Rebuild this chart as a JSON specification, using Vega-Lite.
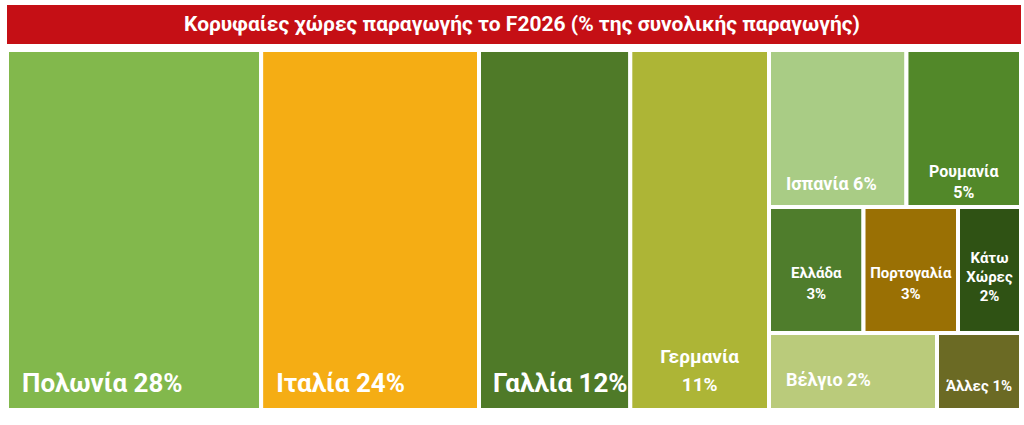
{
  "$schema": "https://vega.github.io/schema/vega-lite/v6.json",
  "padding": 5,
  "background": "white",
  "spacing": 6,
  "bounds": "flush",
  "config": {
    "view": {"stroke": null},
    "text": {"font": "Roboto", "fontWeight": "bold", "color": "white", "lineBreak": "\n"}
  },
  "datasets": {
    "heading": [
      {"text": "Κορυφαίες χώρες παραγωγής το F2026 (% της συνολικής παραγωγής)"}
    ],
    "countries": [
      {"country": "Πολωνία", "value": 28, "label": "Πολωνία 28%"},
      {"country": "Ιταλία", "value": 24, "label": "Ιταλία 24%"},
      {"country": "Γαλλία", "value": 12, "label": "Γαλλία 12%"},
      {"country": "Γερμανία", "value": 11, "label": "Γερμανία\n11%"},
      {"country": "Ισπανία", "value": 6, "label": "Ισπανία 6%"},
      {"country": "Ρουμανία", "value": 5, "label": "Ρουμανία\n5%"},
      {"country": "Ελλάδα", "value": 3, "label": "Ελλάδα\n3%"},
      {"country": "Πορτογαλία", "value": 3, "label": "Πορτογαλία\n3%"},
      {"country": "Κάτω Χώρες", "value": 2, "label": "Κάτω\nΧώρες\n2%"},
      {"country": "Βέλγιο", "value": 2, "label": "Βέλγιο 2%"},
      {"country": "Άλλες", "value": 1, "label": "Άλλες 1%"}
    ]
  },
  "vconcat": [
    {
      "data": {"name": "heading"},
      "width": 1014,
      "height": 39,
      "view": {"fill": "#c50f15", "stroke": null},
      "mark": {"type": "text", "fontSize": 21, "dx": 8},
      "encoding": {"text": {"field": "text", "type": "nominal"}}
    },
    {
      "spacing": 0,
      "bounds": "flush",
      "hconcat": [
        {
          "width": 472,
          "height": 360,
          "data": {"name": "countries"},
          "transform": [
            {"filter": {"field": "country", "oneOf": ["Πολωνία", "Ιταλία"]}},
            {"stack": "value", "groupby": [], "offset": "normalize", "as": ["x0", "x1"],
             "sort": [{"field": "value", "order": "descending"}, {"field": "country", "order": "ascending"}]}
          ],
          "encoding": {
            "x": {"field": "x0", "type": "quantitative", "scale": {"domain": [0, 1]}, "axis": null}
          },
          "layer": [
            {
              "mark": {"type": "rect", "stroke": "white", "strokeWidth": 4},
              "encoding": {
                "x2": {"field": "x1"},
                "color": {"field": "country", "type": "nominal", "legend": null,
                  "scale": {"domain": ["Πολωνία", "Ιταλία", "Γαλλία", "Γερμανία", "Ισπανία", "Ρουμανία", "Ελλάδα", "Πορτογαλία", "Κάτω Χώρες", "Βέλγιο", "Άλλες"],
                            "range": ["#82b84c", "#f5ad14", "#4f7a28", "#adb536", "#a9cc85", "#528829", "#4f7d2c", "#9a7004", "#2f5214", "#bacb7b", "#6b6a24"]}}
              }
            },
            {
              "mark": {"type": "text", "align": "left", "baseline": "alphabetic", "y": "height", "dx": 15, "dy": -18, "fontSize": 26},
              "encoding": {"text": {"field": "label", "type": "nominal"}}
            }
          ]
        },
        {
          "width": 290,
          "height": 360,
          "data": {"name": "countries"},
          "transform": [
            {"filter": {"field": "country", "oneOf": ["Γαλλία", "Γερμανία"]}},
            {"stack": "value", "groupby": [], "offset": "normalize", "as": ["x0", "x1"],
             "sort": [{"field": "value", "order": "descending"}, {"field": "country", "order": "ascending"}]}
          ],
          "encoding": {
            "x": {"field": "x0", "type": "quantitative", "scale": {"domain": [0, 1]}, "axis": null}
          },
          "layer": [
            {
              "mark": {"type": "rect", "stroke": "white", "strokeWidth": 4},
              "encoding": {
                "x2": {"field": "x1"},
                "color": {"field": "country", "type": "nominal", "legend": null,
                  "scale": {"domain": ["Πολωνία", "Ιταλία", "Γαλλία", "Γερμανία", "Ισπανία", "Ρουμανία", "Ελλάδα", "Πορτογαλία", "Κάτω Χώρες", "Βέλγιο", "Άλλες"],
                            "range": ["#82b84c", "#f5ad14", "#4f7a28", "#adb536", "#a9cc85", "#528829", "#4f7d2c", "#9a7004", "#2f5214", "#bacb7b", "#6b6a24"]}}
              }
            },
            {
              "transform": [{"filter": {"field": "country", "equal": "Γαλλία"}}],
              "mark": {"type": "text", "align": "left", "baseline": "alphabetic", "y": "height", "dx": 14, "dy": -18, "fontSize": 26},
              "encoding": {"text": {"field": "label", "type": "nominal"}}
            },
            {
              "transform": [
                {"filter": {"field": "country", "equal": "Γερμανία"}},
                {"fold": ["x0", "x1"], "as": ["edge", "pos"]},
                {"aggregate": [{"op": "mean", "field": "pos", "as": "xm"}], "groupby": ["country", "label"]}
              ],
              "mark": {"type": "text", "align": "center", "baseline": "alphabetic", "y": "height", "dy": -47, "fontSize": 19, "lineHeight": 28},
              "encoding": {"x": {"field": "xm", "type": "quantitative"}, "text": {"field": "label", "type": "nominal"}}
            }
          ]
        },
        {
          "spacing": 0,
          "bounds": "flush",
          "vconcat": [
            {
              "width": 252,
              "height": 157,
              "data": {"name": "countries"},
              "transform": [
                {"filter": {"field": "country", "oneOf": ["Ισπανία", "Ρουμανία"]}},
                {"stack": "value", "groupby": [], "offset": "normalize", "as": ["x0", "x1"],
                 "sort": [{"field": "value", "order": "descending"}, {"field": "country", "order": "ascending"}]}
              ],
              "encoding": {
                "x": {"field": "x0", "type": "quantitative", "scale": {"domain": [0, 1]}, "axis": null}
              },
              "layer": [
                {
                  "mark": {"type": "rect", "stroke": "white", "strokeWidth": 4},
                  "encoding": {
                    "x2": {"field": "x1"},
                    "color": {"field": "country", "type": "nominal", "legend": null,
                      "scale": {"domain": ["Πολωνία", "Ιταλία", "Γαλλία", "Γερμανία", "Ισπανία", "Ρουμανία", "Ελλάδα", "Πορτογαλία", "Κάτω Χώρες", "Βέλγιο", "Άλλες"],
                                "range": ["#82b84c", "#f5ad14", "#4f7a28", "#adb536", "#a9cc85", "#528829", "#4f7d2c", "#9a7004", "#2f5214", "#bacb7b", "#6b6a24"]}}
                  }
                },
                {
                  "transform": [{"filter": {"field": "country", "equal": "Ισπανία"}}],
                  "mark": {"type": "text", "align": "left", "baseline": "alphabetic", "y": "height", "dx": 17, "dy": -17, "fontSize": 18},
                  "encoding": {"text": {"field": "label", "type": "nominal"}}
                },
                {
                  "transform": [
                    {"filter": {"field": "country", "equal": "Ρουμανία"}},
                    {"fold": ["x0", "x1"], "as": ["edge", "pos"]},
                    {"aggregate": [{"op": "mean", "field": "pos", "as": "xm"}], "groupby": ["country", "label"]}
                  ],
                  "mark": {"type": "text", "align": "center", "baseline": "alphabetic", "y": "height", "dy": -30, "fontSize": 16, "lineHeight": 21},
                  "encoding": {"x": {"field": "xm", "type": "quantitative"}, "text": {"field": "label", "type": "nominal"}}
                }
              ]
            },
            {
              "width": 252,
              "height": 126,
              "data": {"name": "countries"},
              "transform": [
                {"filter": {"field": "country", "oneOf": ["Ελλάδα", "Πορτογαλία", "Κάτω Χώρες"]}},
                {"stack": "value", "groupby": [], "offset": "normalize", "as": ["x0", "x1"],
                 "sort": [{"field": "value", "order": "descending"}, {"field": "country", "order": "ascending"}]},
                {"fold": ["x0", "x1"], "as": ["edge", "pos"]},
                {"joinaggregate": [{"op": "mean", "field": "pos", "as": "xm"}], "groupby": ["country"]},
                {"filter": {"field": "edge", "equal": "x0"}}
              ],
              "encoding": {
                "x": {"field": "x0", "type": "quantitative", "scale": {"domain": [0, 1]}, "axis": null}
              },
              "layer": [
                {
                  "mark": {"type": "rect", "stroke": "white", "strokeWidth": 4},
                  "encoding": {
                    "x2": {"field": "x1"},
                    "color": {"field": "country", "type": "nominal", "legend": null,
                      "scale": {"domain": ["Πολωνία", "Ιταλία", "Γαλλία", "Γερμανία", "Ισπανία", "Ρουμανία", "Ελλάδα", "Πορτογαλία", "Κάτω Χώρες", "Βέλγιο", "Άλλες"],
                                "range": ["#82b84c", "#f5ad14", "#4f7a28", "#adb536", "#a9cc85", "#528829", "#4f7d2c", "#9a7004", "#2f5214", "#bacb7b", "#6b6a24"]}}
                  }
                },
                {
                  "transform": [{"filter": {"field": "country", "oneOf": ["Ελλάδα", "Πορτογαλία"]}}],
                  "mark": {"type": "text", "align": "center", "baseline": "alphabetic", "y": "height", "dy": -55, "fontSize": 15, "lineHeight": 21},
                  "encoding": {"x": {"field": "xm", "type": "quantitative"}, "text": {"field": "label", "type": "nominal"}}
                },
                {
                  "transform": [{"filter": {"field": "country", "equal": "Κάτω Χώρες"}}],
                  "mark": {"type": "text", "align": "center", "baseline": "alphabetic", "y": "height", "dy": -70, "fontSize": 15, "lineHeight": 19},
                  "encoding": {"x": {"field": "xm", "type": "quantitative"}, "text": {"field": "label", "type": "nominal"}}
                }
              ]
            },
            {
              "width": 252,
              "height": 77,
              "data": {"name": "countries"},
              "transform": [
                {"filter": {"field": "country", "oneOf": ["Βέλγιο", "Άλλες"]}},
                {"stack": "value", "groupby": [], "offset": "normalize", "as": ["x0", "x1"],
                 "sort": [{"field": "value", "order": "descending"}, {"field": "country", "order": "ascending"}]}
              ],
              "encoding": {
                "x": {"field": "x0", "type": "quantitative", "scale": {"domain": [0, 1]}, "axis": null}
              },
              "layer": [
                {
                  "mark": {"type": "rect", "stroke": "white", "strokeWidth": 4},
                  "encoding": {
                    "x2": {"field": "x1"},
                    "color": {"field": "country", "type": "nominal", "legend": null,
                      "scale": {"domain": ["Πολωνία", "Ιταλία", "Γαλλία", "Γερμανία", "Ισπανία", "Ρουμανία", "Ελλάδα", "Πορτογαλία", "Κάτω Χώρες", "Βέλγιο", "Άλλες"],
                                "range": ["#82b84c", "#f5ad14", "#4f7a28", "#adb536", "#a9cc85", "#528829", "#4f7d2c", "#9a7004", "#2f5214", "#bacb7b", "#6b6a24"]}}
                  }
                },
                {
                  "transform": [{"filter": {"field": "country", "equal": "Βέλγιο"}}],
                  "mark": {"type": "text", "align": "left", "baseline": "alphabetic", "y": "height", "dx": 17, "dy": -24, "fontSize": 18},
                  "encoding": {"text": {"field": "label", "type": "nominal"}}
                },
                {
                  "transform": [
                    {"filter": {"field": "country", "equal": "Άλλες"}},
                    {"fold": ["x0", "x1"], "as": ["edge", "pos"]},
                    {"aggregate": [{"op": "mean", "field": "pos", "as": "xm"}], "groupby": ["country", "label"]}
                  ],
                  "mark": {"type": "text", "align": "center", "baseline": "alphabetic", "y": "height", "dy": -19, "fontSize": 15},
                  "encoding": {"x": {"field": "xm", "type": "quantitative"}, "text": {"field": "label", "type": "nominal"}}
                }
              ]
            }
          ]
        }
      ]
    }
  ]
}
